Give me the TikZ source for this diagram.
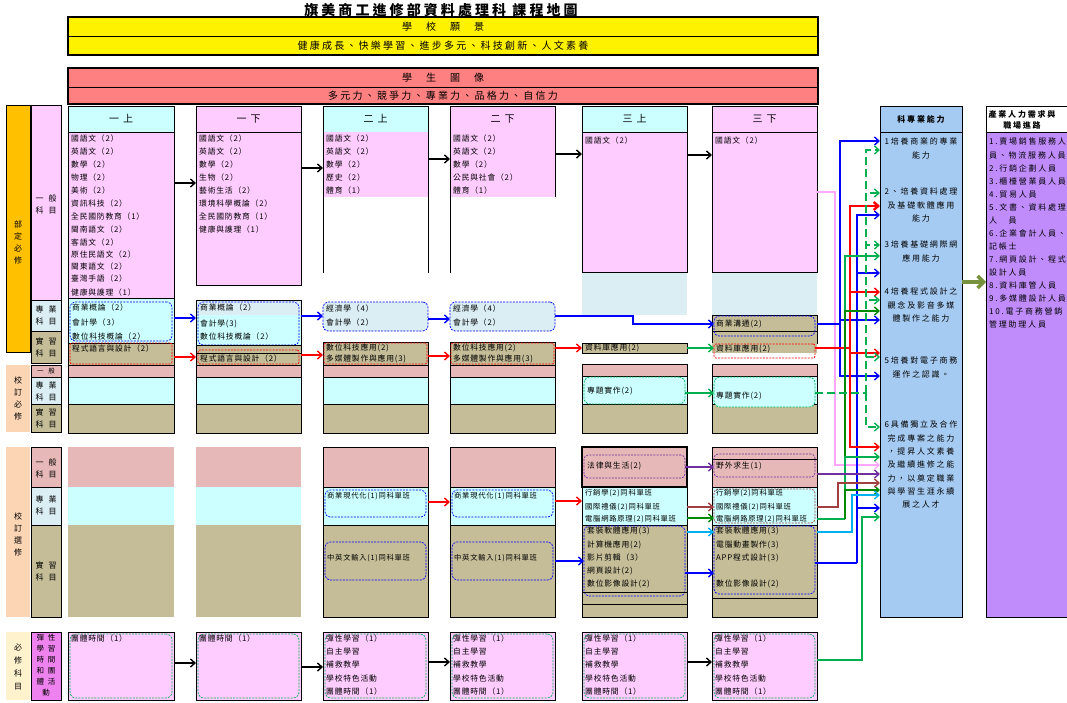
\documentclass[tikz,border=0pt]{standalone}
\usepackage{fontspec}
\setmainfont{Noto Sans CJK TC}
\newfontfamily\cjks{Noto Sans CJK TC}[LetterSpace=10]
\newfontfamily\cjkw{Noto Sans CJK TC}[LetterSpace=22]
\usetikzlibrary{arrows.meta}
\definecolor{cyn}{HTML}{CCFFFF}
\definecolor{pnk}{HTML}{FFCCFF}
\definecolor{lbl}{HTML}{DAEEF3}
\definecolor{tanc}{HTML}{C4BD97}
\definecolor{dpk}{HTML}{E6B9B8}
\definecolor{org}{HTML}{FFC000}
\definecolor{pch}{HTML}{FCD5B4}
\definecolor{lyl}{HTML}{FFF2CC}
\definecolor{mag}{HTML}{EE82EE}
\definecolor{sal}{HTML}{FF8080}
\definecolor{pblue}{HTML}{A6CBF2}
\definecolor{ppur}{HTML}{C08CFC}
\definecolor{olv}{HTML}{76923C}
\definecolor{gr}{HTML}{00B050}
\definecolor{dgr}{HTML}{008A00}
\definecolor{pur}{HTML}{7030A0}
\definecolor{brn}{HTML}{A04040}
\definecolor{cy}{HTML}{00B0F0}
\definecolor{pkl}{HTML}{FFA6FF}
\newcommand{\bx}[6][]{%
 \pgfmathsetmacro\bxw{#5-#3}%
 \pgfmathsetmacro\bxh{#6-#4}%
 \node[anchor=north west,inner sep=0pt,outer sep=0pt,minimum width=\bxw pt,minimum height=\bxh pt,#1] (#2) at (#3,#4) {};}
\newcommand{\itm}[4]{\node[it] (#1) at (#2,#3) {#4};}
\newcommand{\itl}[4]{\node[it,font=\cjks\fontsize{7.3}{9}\selectfont] (#1) at (#2,#3) {#4};}
\tikzset{
 bd/.style={draw=black,line width=0.8pt},
 it/.style={anchor=west,inner sep=0pt,font=\cjks\fontsize{7.8}{9}\selectfont},
 lab/.style={align=center,inner sep=0pt,font=\fontsize{8}{12}\selectfont},
 hd/.style={inner sep=0pt,font=\cjkw\fontsize{10}{12}\selectfont},
 ptx/.style={align=center,anchor=north,inner sep=0pt,font=\cjkw\fontsize{8}{13.3}\selectfont},
 dsh/.style={dash pattern=on 2pt off 1.2pt,line width=0.7pt},
 bdash/.style={dsh,draw=blue,rounded corners=5pt},
 rdash/.style={dsh,draw=red,rounded corners=2pt},
 gdash/.style={dsh,draw=gr,rounded corners=6pt},
 pdash/.style={dsh,draw=pur,rounded corners=4pt},
 brdash/.style={dsh,draw=brn,rounded corners=4pt},
 tip/.style={-{Straight Barb[length=4.5pt,width=8pt]}},
 ar/.style={tip,line width=1.4pt,draw=black},
 arb/.style={tip,line width=1.4pt,draw=blue},
 arr/.style={tip,line width=1.4pt,draw=red},
 arg/.style={tip,line width=1.4pt,draw=gr},
 ardg/.style={tip,line width=1.4pt,draw=dgr},
 argd/.style={tip,line width=1.4pt,draw=gr,dash pattern=on 8pt off 4pt},
 arpu/.style={tip,line width=1.4pt,draw=pur},
 arbr/.style={tip,line width=1.4pt,draw=brn},
 arcy/.style={tip,line width=1.4pt,draw=cy},
 arpk/.style={tip,line width=1.2pt,draw=pkl},
}
\begin{document}
\begin{tikzpicture}[x=1pt,y=-1pt]
\useasboundingbox (0,0) rectangle (1067,702);
\fill[white] (0,0) rectangle (1067,702);
% title
\node[inner sep=0pt,font=\cjkw\bfseries\fontsize{14}{16}\selectfont] (title) at (441,10) {旗美商工進修部資料處理科 課程地圖};
% vision
\bx[fill=yellow,draw=black,line width=1.6pt]{vis}{68}{17}{818}{55}
\draw[line width=0.8pt] (vis.west|-0,36) -- (vis.east|-0,36);
\node[hd] (visA) at (443,27) {學\hspace{14pt}校\hspace{14pt}願\hspace{14pt}景};
\node[hd] (visB) at (443,46) {健康成長、快樂學習、進步多元、科技創新、人文素養};
% student image
\bx[fill=sal,draw=black,line width=1.6pt]{img}{68}{68}{818}{104}
\draw[line width=0.8pt] (img.west|-0,87) -- (img.east|-0,87);
\node[hd] (imgA) at (443,78) {學\hspace{14pt}生\hspace{14pt}圖\hspace{14pt}像};
\node[hd] (imgB) at (443,96) {多元力、競爭力、專業力、品格力、自信力};
% left labels
\bx[fill=org,bd]{L1}{6}{105}{30}{352}
\node[lab] (L1t) at (18,242) {部\\定\\必\\修};
\bx[fill=pnk,bd]{L1a}{31}{105}{61}{300}
\node[lab] (L1at) at (46,204) {一\hspace{5pt}般\\科\hspace{5pt}目};
\bx[fill=lbl,bd]{L1b}{31}{300}{61}{331}
\node[lab] (L1bt) at (46,315) {專\hspace{5pt}業\\科\hspace{5pt}目};
\bx[fill=tanc,bd]{L1c}{31}{331}{61}{363}
\node[lab] (L1ct) at (46,347) {實\hspace{5pt}習\\科\hspace{5pt}目};
\bx[fill=pch]{L2}{6}{365}{30}{432}
\node[lab] (L2t) at (18,398) {校\\訂\\必\\修};
\bx[fill=dpk,bd]{L2a}{31}{365}{61}{377}
\node[lab,font=\fontsize{6.5}{7}\selectfont] (L2at) at (46,371) {一\hspace{5pt}般};
\bx[fill=lbl,bd]{L2b}{31}{377}{61}{404}
\node[lab] (L2bt) at (46,391) {專\hspace{5pt}業\\科\hspace{5pt}目};
\bx[fill=tanc,bd]{L2c}{31}{404}{61}{432}
\node[lab] (L2ct) at (46,418) {實\hspace{5pt}習\\科\hspace{5pt}目};
\bx[fill=pch]{L3}{6}{447}{30}{617}
\node[lab] (L3t) at (18,534) {校\\訂\\選\\修};
\bx[fill=dpk,bd]{L3a}{31}{447}{61}{487}
\node[lab] (L3at) at (46,468) {一\hspace{5pt}般\\科\hspace{5pt}目};
\bx[fill=lbl,bd]{L3b}{31}{487}{61}{525}
\node[lab] (L3bt) at (46,505) {專\hspace{5pt}業\\科\hspace{5pt}目};
\bx[fill=tanc,bd]{L3c}{31}{525}{61}{617}
\node[lab] (L3ct) at (46,571) {實\hspace{5pt}習\\科\hspace{5pt}目};
\bx[fill=lyl]{L4}{6}{632}{30}{700}
\node[lab,font=\fontsize{8}{13}\selectfont] (L4t) at (18,667) {必\\修\\科\\目};
\bx[fill=mag,bd]{L4a}{31}{632}{61}{700}
\node[lab,font=\fontsize{7.5}{11}\selectfont] (L4at) at (46,665) {彈\hspace{4pt}性\\學\hspace{4pt}習\\時\hspace{4pt}間\\和\hspace{4pt}團\\體\hspace{4pt}活\\動};
% headers
\bx[bd,fill=cyn]{h1}{68}{106}{174}{132}
\bx[bd,fill=pnk]{h2}{196}{106}{301}{132}
\bx[bd,fill=cyn]{h3}{323}{106}{428}{132}
\bx[bd,fill=pnk]{h4}{450}{106}{555}{132}
\bx[bd,fill=cyn]{h5}{582}{106}{687}{132}
\bx[bd,fill=pnk]{h6}{712}{106}{817}{132}
\node[hd] (h1t) at (h1) {一\hspace{4pt}上};
\node[hd] (h2t) at (h2) {一\hspace{4pt}下};
\node[hd] (h3t) at (h3) {二\hspace{4pt}上};
\node[hd] (h4t) at (h4) {二\hspace{4pt}下};
\node[hd] (h5t) at (h5) {三\hspace{4pt}上};
\node[hd] (h6t) at (h6) {三\hspace{4pt}下};
% general bodies
\bx[bd,fill=pnk]{g1}{68}{132}{174}{298}
\bx[bd,fill=pnk]{g2}{196}{132}{301}{285}
\bx[fill=pnk]{g3}{323}{132}{428}{197}
\bx[fill=pnk]{g4}{450}{132}{555}{197}
\draw[line width=0.8pt] (323,132) -- (323,273) (428,132) -- (428,273);
\draw[line width=0.8pt] (450,132) -- (450,273) (555,132) -- (555,197);
\fill[lbl] (582,272) rectangle (687,315);
\fill[lbl] (712,272) rectangle (817,315);
\bx[bd,fill=pnk]{g5}{582}{132}{687}{272}
\bx[bd,fill=pnk]{g6}{712}{132}{817}{272}
\itm{a1}{71}{139}{國語文（2）}
\itm{a2}{71}{152}{英語文（2）}
\itm{a3}{71}{165}{數學（2）}
\itm{a4}{71}{178}{物理（2）}
\itm{a5}{71}{191}{美術（2）}
\itm{a6}{71}{204}{資訊科技（2）}
\itm{a7}{71}{217}{全民國防教育（1）}
\itm{a8}{71}{230}{閩南語文（2）}
\itm{a9}{71}{243}{客語文（2）}
\itm{a10}{71}{255}{原住民語文（2）}
\itm{a11}{71}{267}{閩東語文（2）}
\itm{a12}{71}{279}{臺灣手語（2）}
\itm{a13}{71}{293}{健康與護理（1）}
\itm{b1}{199}{139}{國語文（2）}
\itm{b2}{199}{152}{英語文（2）}
\itm{b3}{199}{165}{數學（2）}
\itm{b4}{199}{178}{生物（2）}
\itm{b5}{199}{191}{藝術生活（2）}
\itm{b6}{199}{204}{環境科學概論（2）}
\itm{b7}{199}{217}{全民國防教育（1）}
\itm{b8}{199}{230}{健康與護理（1）}
\itm{d1}{326}{139}{國語文（2）}
\itm{d2}{326}{152}{英語文（2）}
\itm{d3}{326}{165}{數學（2）}
\itm{d4}{326}{178}{歷史（2）}
\itm{d5}{326}{191}{體育（1）}
\itm{e1}{453}{139}{國語文（2）}
\itm{e2}{453}{152}{英語文（2）}
\itm{e3}{453}{165}{數學（2）}
\itm{e4}{453}{178}{公民與社會（2）}
\itm{e5}{453}{191}{體育（1）}
\itm{f1}{585}{141}{國語文（2）}
\itm{k1}{715}{141}{國語文（2）}
% professional / practice rows (required)
\bx[bd,fill=cyn]{p1}{68}{298}{174}{343}
\bx[bdash]{p1d}{70}{302}{172}{341}
\itm{p1a}{72}{308}{商業概論（2）}
\itm{p1b}{72}{323}{會計學（3）}
\itm{p1c}{72}{337}{數位科技概論（2）}
\bx[bd,fill=tanc]{r1}{68}{343}{174}{365}
\bx[rdash]{r1d}{70}{343}{172}{364}
\itm{r1a}{72}{349}{程式語言與設計（2）}
\bx[bd,fill=cyn]{p2}{196}{300}{301}{345}
\fill[lbl] (196.5,300.5) rectangle (300.5,315);
\bx[bdash]{p2d}{198}{302}{299}{345}
\itm{p2a}{200}{308}{商業概論（2）}
\itm{p2b}{200}{324}{會計學(3)}
\itm{p2c}{200}{337}{數位科技概論（2）}
\bx[bd,fill=tanc]{r2}{196}{345}{301}{365}
\draw[line width=0.8pt] (r2.west|-0,353) -- (r2.east|-0,353);
\bx[rdash]{r2d}{198}{350}{299}{364}
\itm{r2a}{200}{359}{程式語言與設計（2）}
\bx[bdash,fill=lbl]{p3}{323}{302}{428}{331}
\itm{p3a}{326}{309}{經濟學（4）}
\itm{p3b}{326}{323}{會計學（2）}
\bx[bd,fill=tanc]{r3}{323}{342}{428}{365}
\bx[rdash]{r3d}{324}{343}{427}{364}
\itm{r3a}{326}{348}{數位科技應用(2)}
\itm{r3b}{326}{359}{多媒體製作與應用(3)}
\bx[bdash,fill=lbl]{p4}{450}{302}{555}{331}
\itm{p4a}{453}{309}{經濟學（4）}
\itm{p4b}{453}{323}{會計學（2）}
\bx[bd,fill=tanc]{r4}{450}{342}{555}{365}
\bx[rdash]{r4d}{451}{343}{554}{364}
\itm{r4a}{453}{348}{數位科技應用(2)}
\itm{r4b}{453}{359}{多媒體製作與應用(3)}
\bx[bd,fill=tanc]{r5}{582}{343}{687}{353}
\itm{r5a}{585}{348}{資料庫應用(2)}
\bx[bd,fill=tanc]{p6}{712}{315}{817}{343}
\draw[line width=0.8pt] (p6.west|-0,331) -- (p6.east|-0,331);
\bx[bdash]{p6d}{714}{316}{815}{336}
\itm{p6a}{716}{324}{商業溝通(2)}
\bx[fill=tanc]{r6}{712}{343}{817}{353}
\bx[rdash]{r6d}{714}{344}{815}{358}
\itm{r6a}{716}{349}{資料庫應用(2)}
% school required rows
\bx[bd,fill=dpk]{s1a}{68}{365}{174}{377}
\bx[bd,fill=cyn]{s1b}{68}{377}{174}{404}
\bx[bd,fill=tanc]{s1c}{68}{404}{174}{433}
\bx[bd,fill=dpk]{s2a}{196}{365}{301}{377}
\bx[bd,fill=cyn]{s2b}{196}{377}{301}{404}
\bx[bd,fill=tanc]{s2c}{196}{404}{301}{433}
\bx[bd,fill=dpk]{s3a}{323}{365}{428}{377}
\bx[bd,fill=cyn]{s3b}{323}{377}{428}{404}
\bx[bd,fill=tanc]{s3c}{323}{404}{428}{433}
\bx[bd,fill=dpk]{s4a}{450}{365}{555}{377}
\bx[bd,fill=cyn]{s4b}{450}{377}{555}{404}
\bx[bd,fill=tanc]{s4c}{450}{404}{555}{433}
\bx[bd,fill=dpk]{s5a}{582}{364}{687}{376}
\bx[bd,fill=cyn]{s5b}{582}{376}{687}{404}
\bx[bd,fill=tanc]{s5c}{582}{404}{687}{433}
\bx[gdash]{j5}{584}{377}{685}{404}
\itm{j5a}{587}{391}{專題實作(2)}
\bx[bd,fill=dpk]{s6a}{712}{364}{817}{376}
\bx[bd,fill=cyn]{s6b}{712}{376}{817}{404}
\bx[bd,fill=tanc]{s6c}{712}{404}{817}{433}
\bx[gdash,fill=cyn]{j6}{714}{377}{815}{407}
\itm{j6a}{716}{396}{專題實作(2)}
% school elective rows
\bx[fill=dpk]{u1a}{68}{447}{174}{487}
\bx[fill=cyn]{u1b}{68}{487}{174}{525}
\bx[fill=tanc]{u1c}{68}{525}{174}{617}
\bx[fill=dpk]{u2a}{196}{447}{301}{487}
\bx[fill=cyn]{u2b}{196}{487}{301}{525}
\bx[fill=tanc]{u2c}{196}{525}{301}{617}
\bx[bd,fill=dpk]{u3a}{323}{447}{428}{487}
\bx[bd,fill=cyn]{u3b}{323}{487}{428}{525}
\bx[bd,fill=tanc]{u3c}{323}{525}{428}{617}
\bx[bdash]{u3bd}{325}{490}{426}{517}
\itl{u3b1}{327}{496}{商業現代化(1)同科單班}
\bx[bdash]{u3cd}{325}{542}{426}{580}
\itl{u3c1}{327}{558}{中英文輸入(1)同科單班}
\bx[bd,fill=dpk]{u4a}{450}{447}{555}{487}
\bx[bd,fill=cyn]{u4b}{450}{487}{555}{525}
\bx[bd,fill=tanc]{u4c}{450}{525}{555}{617}
\bx[bdash]{u4bd}{452}{490}{553}{517}
\itl{u4b1}{454}{496}{商業現代化(1)同科單班}
\bx[bdash]{u4cd}{452}{542}{553}{580}
\itl{u4c1}{454}{558}{中英文輸入(1)同科單班}
\bx[draw=black,line width=1.3pt,fill=dpk]{u5a}{582}{447}{687}{487}
\bx[bd,fill=cyn]{u5b}{582}{487}{687}{525}
\bx[bd,fill=tanc]{u5c}{582}{525}{687}{617}
\bx[pdash]{u5ad}{584}{455}{685}{478}
\itm{u5a1}{587}{466}{法律與生活(2)}
\itl{c5mk}{585}{493}{行銷學(2)同科單班}
\itl{c5in}{585}{507}{國際禮儀(2)同科單班}
\itl{c5nt}{585}{519}{電腦網路原理(2)同科單班}
\bx[bdash]{u5cd}{584}{526}{685}{596}
\itm{c5sw}{587}{531}{套裝軟體應用(3)}
\itm{c5c2}{587}{545}{計算機應用(2)}
\itm{c5c3}{587}{558}{影片剪輯（3）}
\itm{c5c4}{587}{571}{網頁設計(2)}
\itm{c5c5}{587}{584}{數位影像設計(2)}
\draw[line width=0.8pt] (u5c.west|-0,592) -- (u5c.east|-0,592) (u5c.west|-0,604) -- (u5c.east|-0,604);
\bx[bd,fill=dpk]{u6a}{712}{447}{817}{487}
\bx[bd,fill=cyn]{u6b}{712}{487}{817}{525}
\bx[bd,fill=tanc]{u6c}{712}{525}{817}{617}
\draw[line width=0.8pt] (u6a.west|-0,459) -- (u6a.east|-0,459);
\bx[pdash]{u6ad}{714}{454}{815}{477}
\itm{u6a1}{716}{466}{野外求生(1)}
\bx[brdash]{u6bd}{714}{489}{815}{523}
\itl{c6mk}{716}{493}{行銷學(2)同科單班}
\itl{c6in}{716}{507}{國際禮儀(2)同科單班}
\itl{c6nt}{716}{519}{電腦網路原理(2)同科單班}
\bx[bdash]{u6cd}{714}{526}{815}{594}
\itm{c6sw}{716}{531}{套裝軟體應用(3)}
\itm{c6c2}{716}{545}{電腦動畫製作(3)}
\itm{c6c3}{716}{558}{APP程式設計(3)}
\itm{c6c5}{716}{584}{數位影像設計(2)}
\draw[line width=0.8pt] (u6c.west|-0,598) -- (u6c.east|-0,598);
% required bottom row
\bx[bd,fill=pnk]{w1}{68}{632}{174}{700}
\bx[bd,fill=pnk]{w2}{196}{632}{301}{700}
\bx[bd,fill=pnk]{w3}{323}{632}{428}{700}
\bx[bd,fill=pnk]{w4}{450}{632}{555}{700}
\bx[bd,fill=pnk]{w5}{582}{632}{687}{700}
\bx[bd,fill=pnk]{w6}{712}{632}{817}{700}
\bx[gdash]{w1d}{70}{634}{172}{698}
\bx[gdash]{w2d}{198}{634}{299}{698}
\bx[gdash]{w3d}{325}{634}{426}{698}
\bx[gdash]{w4d}{452}{634}{553}{698}
\bx[gdash]{w5d}{584}{634}{685}{698}
\bx[gdash]{w6d}{714}{634}{815}{698}
\itm{w1a}{71}{639}{團體時間（1）}
\itm{w2a}{199}{639}{團體時間（1）}
\foreach \nm/\xx in {w3/326,w4/453,w5/585,w6/715}{
 \itm{\nm a}{\xx}{639}{彈性學習（1）}
 \itm{\nm b}{\xx}{652}{自主學習}
 \itm{\nm c}{\xx}{665}{補救教學}
 \itm{\nm e}{\xx}{679}{學校特色活動}
 \itm{\nm f}{\xx}{692}{團體時間（1）}
}
% right panels
\bx[bd,fill=pblue]{P1}{880}{106}{962}{617}
\draw[line width=0.8pt] (P1.west|-0,132) -- (P1.east|-0,132);
\node[inner sep=0pt,font=\cjkw\bfseries\fontsize{8}{10}\selectfont] (P1h) at (921,119) {科專業能力};
\node[ptx] (P1a) at (921,138) {1培養商業的專業\\能力};
\node[ptx] (P1b) at (921,188) {2、培養資料處理\\及基礎軟體應用\\能力};
\node[ptx] (P1c) at (921,241) {3培養基礎網際網\\應用能力};
\node[ptx] (P1d) at (921,288) {4培養程式設計之\\觀念及影音多媒\\體製作之能力};
\node[ptx] (P1e) at (921,357) {5培養對電子商務\\運作之認識。};
\node[ptx] (P1f) at (921,421) {6具備獨立及合作\\完成專案之能力\\，提昇人文素養\\及繼續進修之能\\力，以奠定職業\\與學習生涯永續\\展之人才};
\bx[bd,fill=ppur]{P2}{986}{132}{1075}{617}
\bx[bd,fill=white]{P2h}{986}{106}{1075}{132}
\node[ptx,font=\cjkw\bfseries\fontsize{8}{11}\selectfont] (P2ht) at (1022,110) {產業人力需求與\\職場進路};
\node[ptx,anchor=north west,align=left,font=\cjkw\fontsize{8}{13.07}\selectfont] (P2t) at (989,138) {1.賣場銷售服務人\\員、物流服務人員\\2.行銷企劃人員\\3.櫃檯營業員人員\\4.貿易人員\\5.文書、資料處理\\人　員\\6.企業會計人員、\\記帳士\\7.網頁設計、程式\\設計人員\\8.資料庫管人員\\9.多媒體設計人員\\10.電子商務營銷\\管理助理人員};
% arrows: general row
\draw[ar] (g1.east|-0,183) -- (g2.west|-0,183);
\draw[ar] (g2.east|-0,168) -- (g3.west|-0,168);
\draw[ar] (g3.east|-0,159) -- (g4.west|-0,159);
\draw[ar] (g4.east|-0,154) -- (g5.west|-0,154);
\draw[ar] (g5.east|-0,155) -- (g6.west|-0,155);
% professional
\draw[arb] (p1.east|-0,318) -- (p2.west|-0,318);
\draw[arb] (p2.east|-0,316) -- (p3.west|-0,316);
\draw[arb] (p3.east|-0,319) -- (p4.west|-0,319);
\draw[arb] (p4.east|-0,316) -- (633,316) |- (p6d.west|-0,324);
\draw[arr] (r1.east|-0,357) -- (r2.west|-0,357);
\draw[arr] (r2.east|-0,355) -- (r3.west|-0,355);
\draw[arr] (r3.east|-0,356) -- (r4.west|-0,356);
\draw[arr] (r4.east|-0,348) -- (r5.west|-0,348);
\draw[arg] (r5.east|-0,348) -- (r6d.west|-0,348);
\draw[arg] (j5.east|-0,393) -- (j6.west|-0,393);
% electives
\draw[arr] (u3b.east|-0,502) -- (u4b.west|-0,502);
\draw[arr] (u4b.east|-0,501) -- (u5b.west|-0,501);
\draw[arb] (u4c.east|-0,561) -- (u5cd.west|-0,561);
\draw[arb] (u5cd.east|-0,573) -- (u6cd.west|-0,573);
\draw[arpu] (u5ad.east|-0,467) -- (u6ad.west|-0,467);
\draw[arbr] (u5b.east|-0,507) -- (u6bd.west|-0,507);
\draw[ardg] (u5b.east|-0,518) -- (u6bd.west|-0,518);
\draw[arcy] (u5c.east|-0,532) -- (u6cd.west|-0,532);
% bottom
\draw[ar] (w1.east|-0,663) -- (w2.west|-0,663);
\draw[ar] (w2.east|-0,667) -- (w3.west|-0,667);
\draw[ar] (w3.east|-0,662) -- (w4.west|-0,662);
\draw[ar] (w5.east|-0,662) -- (w6.west|-0,662);
% buses to competence panel
\coordinate (bP) at (835,192);
\coordinate (bA) at (840,324);
\coordinate (bB) at (857,563);
\coordinate (bR) at (850,348);
\coordinate (bG) at (845,519);
\coordinate (bD) at (866,393);
\draw[arpk] (g6.east|-0,192) -- (bP) |- (P1.west|-0,465);
\draw[line width=1.4pt,blue] (p6.east|-0,324) -- (bA);
\draw[arb] (bA) |- (P1.west|-0,141);
\draw[arb] (bA) |- (P1.west|-0,320);
\draw[arb] (bA) |- (P1.west|-0,376);
\draw[line width=1.4pt,blue] (u6cd.east|-0,563) -- (bB);
\draw[arb] (bB) |- (P1.west|-0,215);
\draw[arb] (bB) |- (P1.west|-0,273);
\draw[arb] (bB) |- (P1.west|-0,508);
\draw[line width=1.4pt,red] (r6d.east|-0,348) -- (bR);
\draw[arr,line width=2.4pt] (bR) |- (P1.west|-0,206);
\draw[arr] (bR) |- (P1.west|-0,292);
\draw[arr] (bR) |- (P1.west|-0,353);
\draw[arr] (bR) |- (P1.west|-0,447);
\draw[line width=1.4pt,gr] (u6b.east|-0,519) -- (bG);
\draw[arg] (bG) |- (P1.west|-0,256);
\draw[ardg] (bG) |- (P1.west|-0,311);
\draw[arg] (bG) |- (P1.west|-0,457);
\draw[ardg] (bG) |- (P1.west|-0,490);
\draw[line width=1.4pt,gr,dash pattern=on 8pt off 4pt] (j6.east|-0,393) -- (bD);
\draw[argd] (bD) |- (P1.west|-0,150);
\draw[argd] (bD) |- (P1.west|-0,193);
\draw[argd] (bD) |- (P1.west|-0,245);
\draw[argd] (bD) |- (P1.west|-0,300);
\draw[argd] (bD) |- (P1.west|-0,357);
\draw[argd] (bD) |- (P1.west|-0,427);
\draw[arpu] (u6a.east|-0,474) -- (P1.west|-0,474);
\draw[arbr] (u6b.east|-0,507) -- (838,507) |- (P1.west|-0,483);
\draw[arcy] (u6c.east|-0,532) -- (852,532) |- (P1.west|-0,495);
\draw[arg] (w6.east|-0,660) -- (862,660) |- (P1.west|-0,517);
% competence -> careers
\draw[-{Straight Barb[length=6pt,width=12pt]},line width=3.5pt,olv] (P1.east|-0,282) -- (P2.west|-0,282);
\end{tikzpicture}
\end{document}
